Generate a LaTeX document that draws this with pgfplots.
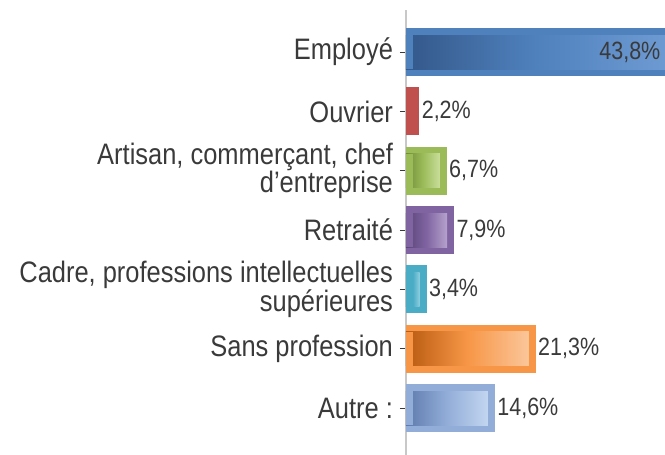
\documentclass[border=0pt]{standalone}
\usepackage{pgfplots}
\pgfplotsset{compat=1.18}
\usepackage{fontspec}
\setmainfont{Liberation Sans}[FakeStretch=0.86]
\newcommand\lblfont{\fontsize{14.8}{14.2}\selectfont\lineskiplimit-30pt\relax}
\definecolor{txt}{HTML}{3A3A3A}
\definecolor{axgray}{HTML}{C8C8C8}
\definecolor{bA}{HTML}{4F81BD}\definecolor{dA}{HTML}{34588A}\definecolor{lA}{HTML}{6E9AD2}
\definecolor{bB}{HTML}{C0504D}
\definecolor{bC}{HTML}{9BBB59}\definecolor{dC}{HTML}{6F8C36}\definecolor{lC}{HTML}{C8DE9A}
\definecolor{bD}{HTML}{8064A2}\definecolor{dD}{HTML}{5B4578}\definecolor{lD}{HTML}{B5A3CC}
\definecolor{bE}{HTML}{4BACC6}\definecolor{dE}{HTML}{2E8AA4}\definecolor{lE}{HTML}{8FCFE0}
\definecolor{bF}{HTML}{F79646}\definecolor{dF}{HTML}{B85A10}\definecolor{lF}{HTML}{FBC69A}
\definecolor{bG}{HTML}{92ADD8}\definecolor{dG}{HTML}{5E7AAD}\definecolor{lG}{HTML}{C3D6F0}
\pgfplotsset{
  outer/.style={fill=#1, draw=none, bar width=24pt},
  inner/.style n args={3}{draw=none, bar width=17pt, left color=#2, right color=#3, middle color=#1},
  cap/.style={fill=#1, draw=none, bar width=17.2pt},
}
\begin{document}
\begin{tikzpicture}
\begin{axis}[name=ax,
  scale only axis, width=129.5pt, height=222.5pt,
  xbar, bar shift=0pt,
  xmin=0, xmax=42.5, ymin=-0.71, ymax=6.79, y dir=reverse,
  hide x axis, axis y line*=left,
  y axis line style={draw=axgray, line width=0.8pt},
  ytick={0,...,6},
  yticklabels={Employé, Ouvrier, {Artisan, commerçant, chef\\d'entreprise}, Retraité,
    {Cadre, professions intellectuelles\\supérieures}, Sans profession, {Autre :}},
  yticklabel style={align=right, font=\lblfont, text=txt},
  tick align=outside, major tick length=3pt,
  ytick style={draw=txt, line width=0.6pt},
  every node near coord/.append style={font=\fontsize{12.5}{13}\selectfont, text=txt, inner sep=1pt},
]
% Employé
\addplot[outer=bA] coordinates {(43.8,0)};
\addplot[inner={bA}{dA}{lA}] coordinates {(42.65,0)};
\addplot[cap=bA] coordinates {(1.15,0)};
\addplot[draw=none, fill=none, bar width=0pt, nodes near coords={{43,8\%}}] coordinates {(31.34,0)};
% Ouvrier
\addplot[outer=bB, nodes near coords={{2,2\%}}] coordinates {(2.2,1)};
% Artisan
\addplot[outer=bC, nodes near coords={{6,7\%}}] coordinates {(6.7,2)};
\addplot[inner={bC}{dC}{lC}] coordinates {(5.55,2)};
\addplot[cap=bC] coordinates {(1.15,2)};
% Retraité
\addplot[outer=bD, nodes near coords={{7,9\%}}] coordinates {(7.9,3)};
\addplot[inner={bD}{dD}{lD}] coordinates {(6.75,3)};
\addplot[cap=bD] coordinates {(1.15,3)};
% Cadre
\addplot[outer=bE, nodes near coords={{3,4\%}}] coordinates {(3.4,4)};
\addplot[inner={bE}{dE}{lE}] coordinates {(2.25,4)};
\addplot[cap=bE] coordinates {(1.15,4)};
% Sans profession
\addplot[outer=bF, nodes near coords={{21,3\%}}] coordinates {(21.3,5)};
\addplot[inner={bF}{dF}{lF}] coordinates {(20.15,5)};
\addplot[cap=bF] coordinates {(1.15,5)};
% Autre
\addplot[outer=bG, nodes near coords={{14,6\%}}] coordinates {(14.6,6)};
\addplot[inner={bG}{dG}{lG}] coordinates {(13.45,6)};
\addplot[cap=bG] coordinates {(1.15,6)};
\end{axis}
\pgfresetboundingbox
\path ([xshift=-203pt]ax.south west) rectangle ([yshift=5pt]ax.north east);
\end{tikzpicture}
\end{document}
